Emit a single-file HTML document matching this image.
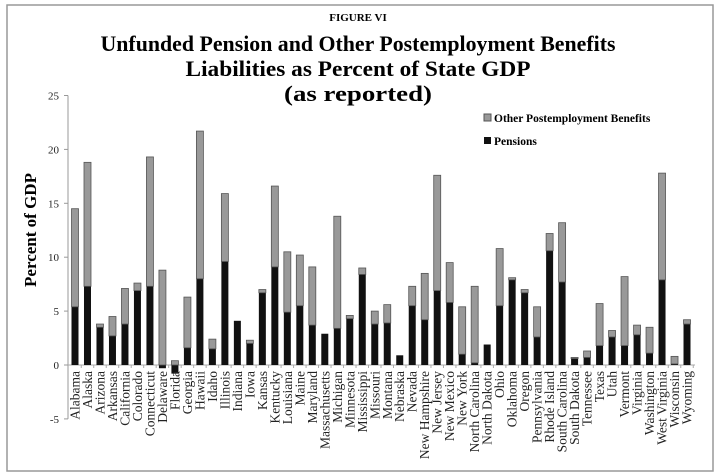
<!DOCTYPE html>
<html><head><meta charset="utf-8"><style>
body{margin:0;background:#fff}
svg{display:block;font-family:"Liberation Serif",serif}
</style></head><body>
<svg id="c" width="720" height="472" viewBox="0 0 720 472">
<rect x="7" y="5" width="706" height="466" fill="#fff" stroke="#999" stroke-width="1.5"/>
<text x="358" y="21" text-anchor="middle" font-size="11" font-weight="bold">FIGURE VI</text>
<text x="358" y="51" text-anchor="middle" font-size="22" font-weight="bold" textLength="515" lengthAdjust="spacingAndGlyphs">Unfunded Pension and Other Postemployment Benefits</text>
<text x="358" y="76" text-anchor="middle" font-size="22" font-weight="bold" textLength="345" lengthAdjust="spacingAndGlyphs">Liabilities as Percent of State GDP</text>
<text x="358" y="101" text-anchor="middle" font-size="22" font-weight="bold" textLength="148" lengthAdjust="spacingAndGlyphs">(as reported)</text>
<text transform="translate(36,230) rotate(-90)" text-anchor="middle" font-size="17" font-weight="bold">Percent of GDP</text>
<g id="legend">
<rect x="484" y="114" width="7" height="7" fill="#999" stroke="#555"/>
<text x="494" y="122" font-size="11.5" font-weight="bold">Other Postemployment Benefits</text>
<rect x="484" y="137" width="7" height="7" fill="#111"/>
<text x="494" y="145" font-size="11.5" font-weight="bold">Pensions</text>
</g>
<g id="plot"></g>
</svg>
<script>
const states=["Alabama","Alaska","Arizona","Arkansas","California","Colorado","Connecticut","Delaware","Florida","Georgia","Hawaii","Idaho","Illinois","Indiana","Iowa","Kansas","Kentucky","Louisiana","Maine","Maryland","Massachusetts","Michigan","Minnesota","Mississippi","Missouri","Montana","Nebraska","Nevada","New Hampshire","New Jersey","New Mexico","New York","North Carolina","North Dakota","Ohio","Oklahoma","Oregon","Pennsylvania","Rhode Island","South Carolina","South Dakota","Tennessee","Texas","Utah","Vermont","Virginia","Washington","West Virginia","Wisconsin","Wyoming"];
const pensions=[5.4,7.3,3.5,2.7,3.8,6.9,7.3,-0.3,-0.8,1.6,8.0,1.5,9.6,4.1,2.0,6.7,9.1,4.9,5.5,3.7,2.9,3.4,4.3,8.4,3.8,3.9,0.9,5.5,4.2,6.9,5.8,1.0,0.2,1.9,5.5,7.9,6.7,2.6,10.6,7.7,0.6,0.7,1.8,2.6,1.8,2.8,1.1,7.9,0.1,3.8];
const opeb=[9.1,11.5,0.3,1.8,3.3,0.7,12.0,8.8,0.4,4.7,13.7,0.9,6.3,0,0.3,0.3,7.5,5.6,4.7,5.4,0,10.4,0.3,0.6,1.2,1.7,0,1.8,4.3,10.7,3.7,4.4,7.1,0,5.3,0.2,0.3,2.8,1.6,5.5,0.1,0.6,3.9,0.6,6.4,0.9,2.4,9.9,0.7,0.4];
const yTicks=[-5,0,5,10,15,20,25];
const NS="http://www.w3.org/2000/svg";
const plot=document.getElementById('plot');
const y0=365,pxPer=10.78,x0=75,step=12.49,bw=7;
const yS=v=>y0-v*pxPer;
const xS=i=>x0+i*step;
function mk(t,a){const e=document.createElementNS(NS,t);for(const k in a)e.setAttribute(k,a[k]);plot.appendChild(e);return e;}
let ax=mk('line',{x1:68,x2:68,y1:yS(25),y2:yS(-5),stroke:'#999'});


let xa=mk('line',{x1:68,x2:xS(49)+8,y1:y0,y2:y0,stroke:'#aaa'});


yTicks.forEach(v=>{
 let t=mk('line',{x1:64,x2:68,y1:yS(v),y2:yS(v),stroke:'#999'});
 
 
 let l=mk('text',{x:59,y:yS(v)+4,'text-anchor':'end','font-size':11,fill:'#222'});
 l.textContent=v;
 
 
});
states.forEach((s,i)=>{
 const cx=xS(i);
 let tk=mk('line',{x1:cx+step/2,x2:cx+step/2,y1:y0,y2:y0+3,stroke:'#aaa'});
 
 
 const p=pensions[i],o=opeb[i];
 const pt=Math.min(yS(p),y0),ph=Math.abs(yS(p)-y0);
 if(ph>0){let r=mk('rect',{x:cx-bw/2,y:pt,width:bw,height:ph,fill:'#111'});
 
 }
 if(o>0){const base=Math.max(p,0);
 let r=mk('rect',{x:cx-bw/2,y:yS(base+o),width:bw,height:o*pxPer,fill:'#999',stroke:'#555','stroke-width':0.8});
 
 }
 let l=mk('text',{transform:`translate(${cx+4.5},371) rotate(-90)`,'text-anchor':'end','font-size':13.5,fill:'#222'});
 l.textContent=s;
 
 
});
</script>
</body></html>
